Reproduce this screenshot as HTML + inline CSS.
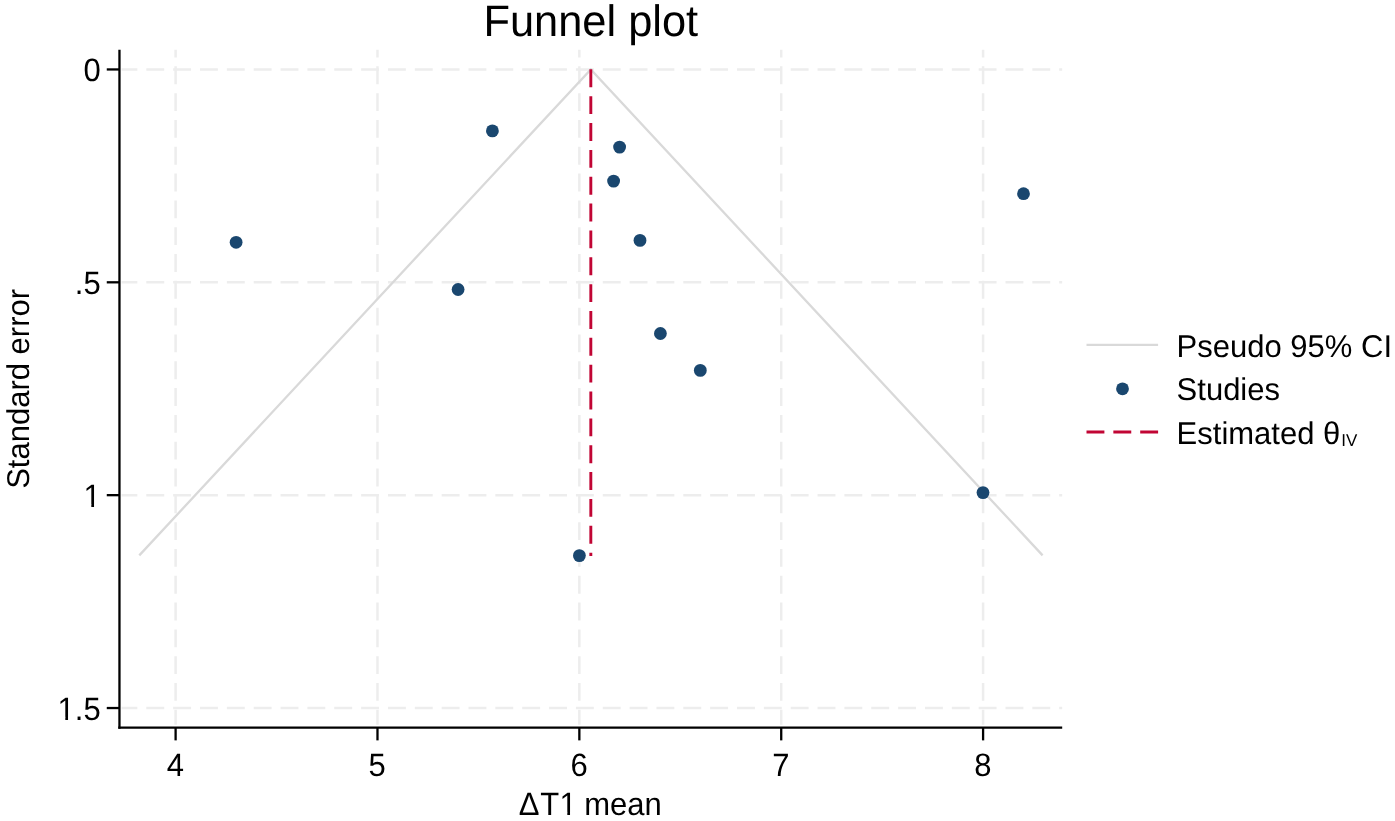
<!DOCTYPE html>
<html lang="en">
<head>
<meta charset="utf-8">
<title>Funnel plot</title>
<style>
html,body{margin:0;padding:0;background:#fff;}
body{width:1395px;height:821px;overflow:hidden;}
svg{display:block;}
text{font-family:"Liberation Sans",Arial,Helvetica,sans-serif;fill:#000;text-rendering:geometricPrecision;}
.lab{font-size:31px;}
.title{font-size:43.4px;}
.sub{font-size:17px;}
</style>
</head>
<body>
<svg width="1395" height="821" viewBox="0 0 1395 821">
<rect x="0" y="0" width="1395" height="821" fill="#ffffff"/>

<g stroke="#ededed" stroke-width="2.5" fill="none">
<line x1="175.61" y1="724.68" x2="175.61" y2="49.65" stroke-dasharray="17.87 8.94" stroke-dashoffset="3.0"/>
<line x1="377.48" y1="724.68" x2="377.48" y2="49.65" stroke-dasharray="17.87 8.94" stroke-dashoffset="3.0"/>
<line x1="579.35" y1="724.68" x2="579.35" y2="49.65" stroke-dasharray="17.87 8.94" stroke-dashoffset="3.0"/>
<line x1="781.22" y1="724.68" x2="781.22" y2="49.65" stroke-dasharray="17.87 8.94" stroke-dashoffset="3.0"/>
<line x1="983.09" y1="724.68" x2="983.09" y2="49.65" stroke-dasharray="17.87 8.94" stroke-dashoffset="3.0"/>
<line x1="121.56" y1="69.45" x2="1062.2" y2="69.45" stroke-dasharray="17.9 8.95" stroke-dashoffset="2.1"/>
<line x1="121.56" y1="282.31" x2="1062.2" y2="282.31" stroke-dasharray="17.9 8.95" stroke-dashoffset="2.1"/>
<line x1="121.56" y1="495.17" x2="1062.2" y2="495.17" stroke-dasharray="17.9 8.95" stroke-dashoffset="2.1"/>
<line x1="121.56" y1="708.03" x2="1062.2" y2="708.03" stroke-dasharray="17.9 8.95" stroke-dashoffset="2.1"/>
</g>
<polyline points="139.3,555.4 590.82,69.35 1042.6,555.4" fill="none" stroke="#d9d9d9" stroke-width="2.3" stroke-linejoin="miter"/>
<line x1="590.82" y1="69.35" x2="590.82" y2="555.9" stroke="#c10534" stroke-width="2.9" stroke-dasharray="17.9 8.95"/>
<g fill="#1a476f">
<circle cx="236.1" cy="242.3" r="6.4"/>
<circle cx="492.4" cy="130.9" r="6.4"/>
<circle cx="458.1" cy="289.5" r="6.4"/>
<circle cx="619.6" cy="147.1" r="6.4"/>
<circle cx="613.6" cy="181.1" r="6.4"/>
<circle cx="640.0" cy="240.4" r="6.4"/>
<circle cx="660.4" cy="333.5" r="6.4"/>
<circle cx="700.3" cy="370.4" r="6.4"/>
<circle cx="1023.5" cy="193.7" r="6.4"/>
<circle cx="983.0" cy="492.6" r="6.4"/>
<circle cx="579.4" cy="555.6" r="6.4"/>
</g>
<g stroke="#000" stroke-width="2.3" fill="none">
<line x1="119.46" y1="49.65" x2="119.46" y2="728.8299999999999"/>
<line x1="118.30999999999999" y1="727.68" x2="1062.2" y2="727.68"/>
<line x1="175.61" y1="727.68" x2="175.61" y2="740.38"/>
<line x1="377.48" y1="727.68" x2="377.48" y2="740.38"/>
<line x1="579.35" y1="727.68" x2="579.35" y2="740.38"/>
<line x1="781.22" y1="727.68" x2="781.22" y2="740.38"/>
<line x1="983.09" y1="727.68" x2="983.09" y2="740.38"/>
<line x1="119.46" y1="69.45" x2="106.75999999999999" y2="69.45"/>
<line x1="119.46" y1="282.31" x2="106.75999999999999" y2="282.31"/>
<line x1="119.46" y1="495.17" x2="106.75999999999999" y2="495.17"/>
<line x1="119.46" y1="708.03" x2="106.75999999999999" y2="708.03"/>
</g>
<text class="lab" transform="translate(175.36,775.60) scale(1,1.04)" text-anchor="middle">4</text>
<text class="lab" transform="translate(377.23,775.60) scale(1,1.04)" text-anchor="middle">5</text>
<text class="lab" transform="translate(579.10,775.60) scale(1,1.04)" text-anchor="middle">6</text>
<text class="lab" transform="translate(780.97,775.60) scale(1,1.04)" text-anchor="middle">7</text>
<text class="lab" transform="translate(982.84,775.60) scale(1,1.04)" text-anchor="middle">8</text>
<text class="lab" transform="translate(100.70,81.45) scale(1,1.04)" text-anchor="end">0</text>
<text class="lab" transform="translate(100.70,294.31) scale(1,1.04)" text-anchor="end">.5</text>
<text class="lab" transform="translate(100.70,507.17) scale(1,1.04)" text-anchor="end">1</text>
<text class="lab" transform="translate(100.70,720.03) scale(1,1.04)" text-anchor="end">1.5</text>
<text class="title" transform="translate(590.80,36.10) scale(1,1.015)" text-anchor="middle">Funnel plot</text>
<text class="lab" transform="translate(590.20,815.40) scale(1,1.04)" text-anchor="middle">Δ<tspan dx="0.8">T</tspan><tspan dx="0.5">1</tspan><tspan dx="-1.3"> mean</tspan></text>
<text class="lab" transform="translate(29.30,388.90) rotate(-90) scale(1,1.015)" text-anchor="middle">Standard error</text>
<g fill="#ffffff">
<rect x="84.5" y="504.0" width="6.81" height="3.60"/><rect x="94.03" y="504.0" width="5.97" height="3.60"/>
<rect x="58.5" y="716.9" width="6.81" height="3.70"/><rect x="68.03" y="716.9" width="5.97" height="3.70"/>
<rect x="560.5" y="811.9" width="6.81" height="3.70"/><rect x="570.03" y="811.9" width="6.47" height="3.70"/>
</g>
<line x1="1086.5" y1="344.8" x2="1158.1" y2="344.8" stroke="#d9d9d9" stroke-width="2.3"/>
<circle cx="1122.5" cy="388.8" r="6.4" fill="#1a476f"/>
<line x1="1086.5" y1="432.0" x2="1158.1" y2="432.0" stroke="#c10534" stroke-width="2.9" stroke-dasharray="17.9 8.95"/>
<text class="lab" transform="translate(1176.60,356.70) scale(1,1.015)" text-anchor="start">Pseudo 95% CI</text>
<text class="lab" transform="translate(1176.60,400.30) scale(1,1.015)" text-anchor="start">Studies</text>
<text class="lab" transform="translate(1176.60,444.00) scale(1,1.015)" text-anchor="start">Estimated θ<tspan class="sub" dx="1" dy="2.1">IV</tspan></text>
</svg>
</body>
</html>
